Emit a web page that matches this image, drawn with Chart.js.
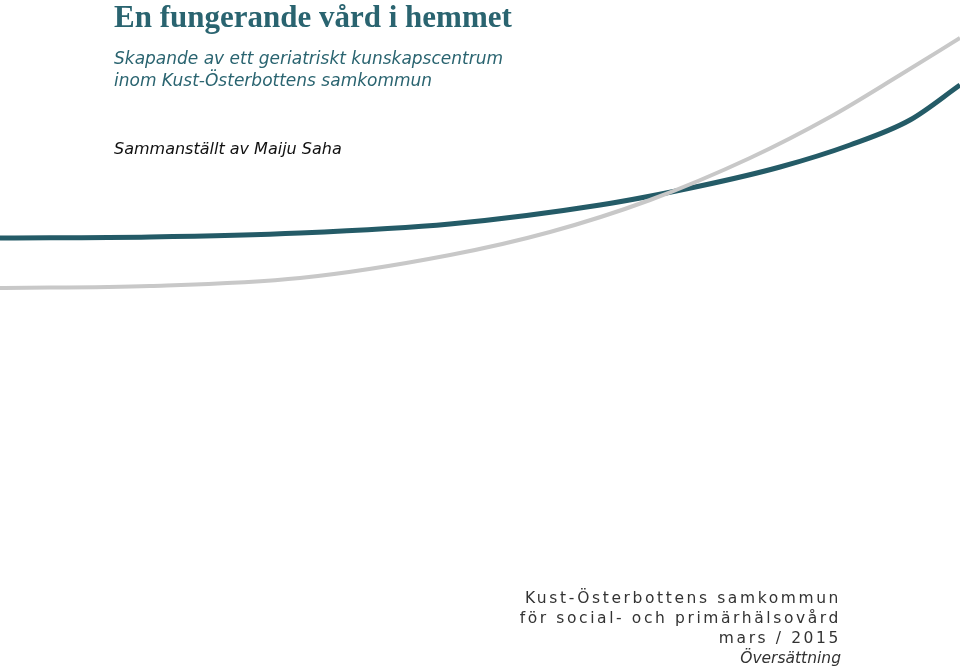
<!DOCTYPE html>
<html>
<head>
<meta charset="utf-8">
<script src="https://cdn.jsdelivr.net/npm/chart.js@4"></script>
<style>
  html, body { margin: 0; padding: 0; background: #fff; }
  #wrap { position: relative; width: 960px; height: 669px; overflow: hidden; }
  #c { position: absolute; left: 0; top: 0; }
  .t { position: absolute; white-space: nowrap; }
  #title { left: 114px; top: -1px; font: bold 31px "Liberation Serif", serif; color: #2a6470; }
  #sub { left: 114px; top: 47px; font: italic 17px "DejaVu Sans", sans-serif; color: #2a6470; line-height: 22px; }
  #author { left: 114px; top: 139px; font: italic 16px "DejaVu Sans", sans-serif; color: #111; }
  #foot { right: 120px; top: 588px; text-align: right; font: 15.5px "DejaVu Sans", sans-serif; color: #333; letter-spacing: 2.6px; line-height: 20px; }
  #foot i { letter-spacing: 0; }
</style>
</head>
<body>
<div id="wrap">
  <canvas id="c" width="960" height="669"></canvas>
  <div class="t" id="title">En fungerande vård i hemmet</div>
  <div class="t" id="sub">Skapande av ett geriatriskt kunskapscentrum<br>inom Kust-Österbottens samkommun</div>
  <div class="t" id="author">Sammanställt av Maiju Saha</div>
  <div class="t" id="foot" style="right:119px">Kust-Österbottens samkommun<br>för social- och primärhälsovård<br>mars / 2015<br><i>Översättning</i></div>
</div>
<script>
// Kurvor på försättsbladet (pixelkoordinater i 960x669)
const tealX = [0, 150, 300, 450, 600, 700, 780, 850, 910, 960];
const tealY = [238, 237, 233, 224, 205, 186, 167, 145, 120, 85];
const grayX = [0, 150, 300, 450, 550, 650, 750, 830, 900, 960];
const grayY = [288, 286, 278, 255, 232, 200, 158, 117, 75, 38];

const toPts = (xs, ys) => xs.map((x, i) => ({ x: x, y: ys[i] }));

new Chart(document.getElementById('c'), {
  type: 'line',
  data: {
    datasets: [
      { data: toPts(grayX, grayY), borderColor: '#c8c8c8', borderWidth: 4, pointRadius: 0, cubicInterpolationMode: 'monotone', fill: false },
      { data: toPts(tealX, tealY), borderColor: '#245b67', borderWidth: 5, pointRadius: 0, cubicInterpolationMode: 'monotone', fill: false }
    ]
  },
  options: {
    responsive: false,
    animation: false,
    layout: { padding: 0 },
    plugins: { legend: { display: false }, tooltip: { enabled: false } },
    scales: {
      x: { type: 'linear', min: 0, max: 960, display: false },
      y: { type: 'linear', min: 0, max: 669, reverse: true, display: false }
    }
  }
});
</script>
</body>
</html>
